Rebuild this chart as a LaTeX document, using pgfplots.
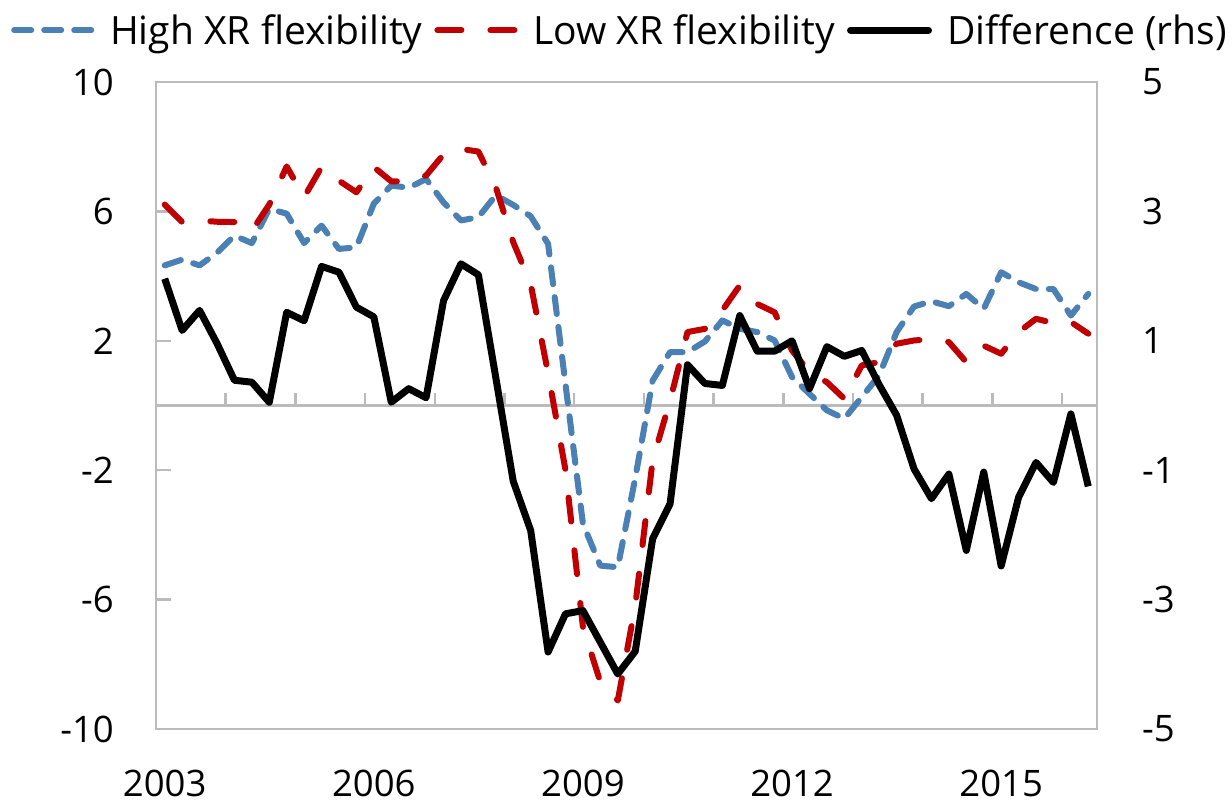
\documentclass[border=0pt]{standalone}
\usepackage{pgfplots}
\pgfplotsset{compat=1.18}
\usepackage{pgfplotstable}
\usepackage{fontspec}
\setmainfont{Open Sans}
\definecolor{hiblue}{HTML}{4A80B4}
\definecolor{lored}{HTML}{C00000}
\definecolor{axgray}{HTML}{BBBBBB}

\pgfplotstableread{
i high low
0 4.33 6.21
1 4.51 5.67
2 4.33 5.72
3 4.72 5.68
4 5.25 5.67
5 5.02 5.40
6 6.08 6.21
7 5.93 7.39
8 5.02 6.44
9 5.56 7.37
10 4.84 6.95
11 4.89 6.59
12 6.24 7.37
13 6.80 6.93
14 6.73 6.93
15 7.00 7.11
16 6.28 7.76
17 5.72 7.93
18 5.82 7.85
19 6.50 6.75
20 6.20 5.05
21 5.85 3.76
22 5.00 1.00
23 0.65 -2.00
24 -3.66 -6.85
25 -4.95 -8.55
26 -5.00 -9.12
27 -2.25 -6.20
28 0.77 -1.70
29 1.65 0.15
30 1.65 2.27
31 1.98 2.37
32 2.63 2.94
33 2.37 3.71
34 2.27 3.14
35 2.01 2.88
36 0.88 1.70
37 0.36 1.03
38 -0.15 0.72
39 -0.41 0.21
40 0.26 1.24
41 0.93 1.34
42 2.27 1.91
43 3.06 2.01
44 3.22 2.05
45 3.07 1.96
46 3.45 1.34
47 2.99 1.85
48 4.12 1.60
49 3.81 2.27
50 3.60 2.68
51 3.60 2.55
52 2.78 2.58
53 3.45 2.22
}\levels

\pgfplotstableread{
i diff
0 1.96
1 1.16
2 1.47
3 0.96
4 0.39
5 0.36
6 0.05
7 1.44
8 1.31
9 2.15
10 2.06
11 1.52
12 1.37
13 0.05
14 0.26
15 0.12
16 1.62
17 2.19
18 2.02
19 0.43
20 -1.17
21 -1.93
22 -3.81
23 -3.22
24 -3.17
25 -3.66
26 -4.15
27 -3.80
28 -2.06
29 -1.52
30 0.63
31 0.34
32 0.31
33 1.39
34 0.84
35 0.84
36 1.00
37 0.26
38 0.91
39 0.76
40 0.85
41 0.32
42 -0.15
43 -0.98
44 -1.44
45 -1.06
46 -2.24
47 -1.03
48 -2.48
49 -1.42
50 -0.88
51 -1.19
52 -0.13
53 -1.25
}\difftab

\begin{document}
\begin{tikzpicture}
\useasboundingbox (-156pt,-74pt) rectangle (1076pt,729pt);
\begin{axis}[
  scale only axis, width=941pt, height=647pt,
  xmin=-0.5, xmax=53.5, ymin=-10, ymax=10,
  axis line style={axgray, line width=2.5pt},
  xtick={0,12,24,36,48}, xticklabels={2003,2006,2009,2012,2015},
  xtick style={draw=none},
  ytick={-10,-6,-2,2,6,10}, yticklabels={-10,-6,-2,2,6,10},
  ytick pos=left, tick align=inside, major tick length=15pt,
  ytick style={axgray, line width=2.5pt},
  tick label style={font=\fontsize{36.5}{40}\selectfont},
  yticklabel style={inner sep=0pt, anchor=east, xshift=-42pt},
  xticklabel style={inner sep=0pt, anchor=north, yshift=-41pt},
  legend columns=3,
  legend style={at={(0.4920,1.080)}, anchor=center, draw=none, fill=none,
    font=\fontsize{39}{42}\selectfont, inner sep=0pt,
    nodes={inner sep=0pt},
    /tikz/every odd column/.append style={column sep=15pt},
    /tikz/every even column/.append style={column sep=12pt}},
  legend image code/.code={\draw[#1] (3pt,0pt) -- (81pt,0pt);},
]
\draw[axgray, line width=2.5pt] (axis cs:-0.5,0) -- (axis cs:53.5,0);
\pgfplotsinvokeforeach{3.5,7.5,11.5,15.5,19.5,23.5,27.5,31.5,35.5,39.5,43.5,47.5,51.5}{
  \draw[axgray, line width=2.5pt] (axis cs:#1,0) -- ++(0pt,12pt);
}
\addplot[hiblue, line width=6pt, line cap=round, line join=round, dash pattern=on 17pt off 13pt, no markers] table[x=i, y=high] {\levels};
\addlegendentry{High XR flexibility}
\addplot[lored, line width=6pt, line cap=round, line join=round, dash pattern=on 24pt off 29pt, no markers] table[x=i, y=low] {\levels};
\addlegendentry{Low XR flexibility}
\addlegendimage{black, line width=7pt, line cap=round}
\addlegendentry{Difference (rhs)}
\end{axis}
\begin{axis}[
  scale only axis, width=941pt, height=647pt,
  xmin=-0.5, xmax=53.5, ymin=-5, ymax=5,
  axis x line=none, axis y line*=right,
  axis line style={axgray, line width=2.5pt},
  ytick={-5,-3,-1,1,3,5}, yticklabels={-5,-3,-1,1,3,5},
  major tick length=0pt,
  tick label style={font=\fontsize{36.5}{40}\selectfont},
  yticklabel style={inner sep=0pt, anchor=west, xshift=45pt},
]
\addplot[black, line width=7pt, line join=round, no markers] table[x=i, y=diff] {\difftab};
\end{axis}
\end{tikzpicture}
\end{document}
